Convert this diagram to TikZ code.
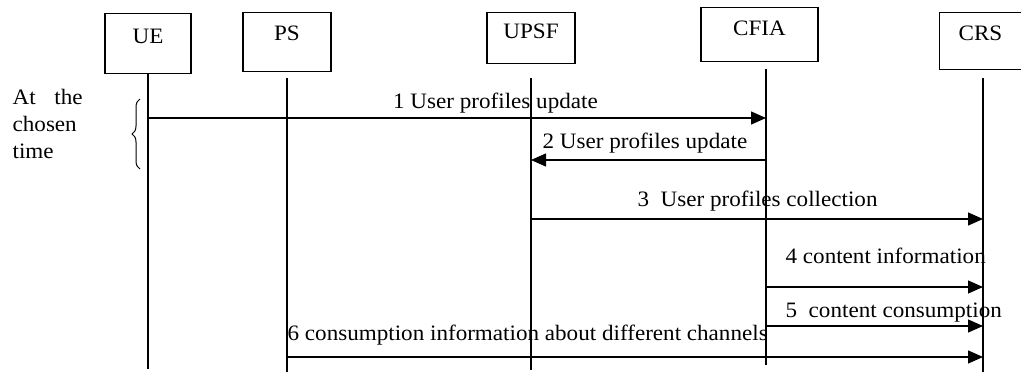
\documentclass[tikz,border=0pt]{standalone}
\usepackage{fontspec}
\setmainfont{Liberation Serif}[FakeStretch=1.05]
\usetikzlibrary{arrows.meta,decorations.pathreplacing}

\begin{document}
\begin{tikzpicture}[x=1pt, y=-1pt, line width=1.3pt, font=\fontsize{22}{27}\selectfont]
\useasboundingbox (0,0) rectangle (1021,372);
\tikzset{entity/.style={draw, inner sep=0pt, anchor=north},
  msg/.style={-{Triangle[length=15pt,width=13pt]}},
  lbl/.style={inner sep=0pt, anchor=base west}}
\foreach \n/\t/\x/\y/\w/\a/\d in {ue/UE/148/13/86/30/30, ps/PS/287/12/88/28/31, upsf/UPSF/531/12/88/26/25, cfia/CFIA/759.5/7/117/28/26, crs/CRS/980.5/12/82/28/29}
  \node[entity, minimum width=\w pt, text height=\a pt, text depth=\d pt] (\n) at (\x,\y) {\t};
\foreach \n/\x/\a/\b in {ue/148/73/369, ps/287/78/372, upsf/531/78/370, cfia/766/69/365, crs/983/78/372}
  {\coordinate (\n-top) at (\x,\a); \coordinate (\n-bot) at (\x,\b); \draw (\n-top) -- (\n-bot);}
\foreach \i/\a/\b/\y in {1/ue/cfia/118, 2/cfia/upsf/160, 3/upsf/crs/219, 4/cfia/crs/287, 5/cfia/crs/326, 6/ps/crs/357}
  \draw[msg] (\a-top |- 0,\y) coordinate (m\i-from) -- (\b-top |- 0,\y) coordinate (m\i-to);
\node[lbl, anchor=base] (l1) at (495.5,108) {1 User profiles update};
\node[lbl] (l2) at (542,148) {2 User profiles update};
\node[lbl] (l3) at (637,206) {3\ \ User profiles collection};
\node[lbl] (l4) at (785,263) {4 content information};
\node[lbl] (l5) at (785,317) {5\ \ content consumption};
\node[lbl] (l6) at (287,340) {6 consumption information about different channels};
\node[anchor=north west, inner sep=0pt, text width=70pt, align=left] (when) at (12,89) {At\hfill the\\chosen\\time};
\draw[decorate, decoration={brace, amplitude=8pt}, line width=1pt] (140,169) -- (140,99);
\end{tikzpicture}
\end{document}
